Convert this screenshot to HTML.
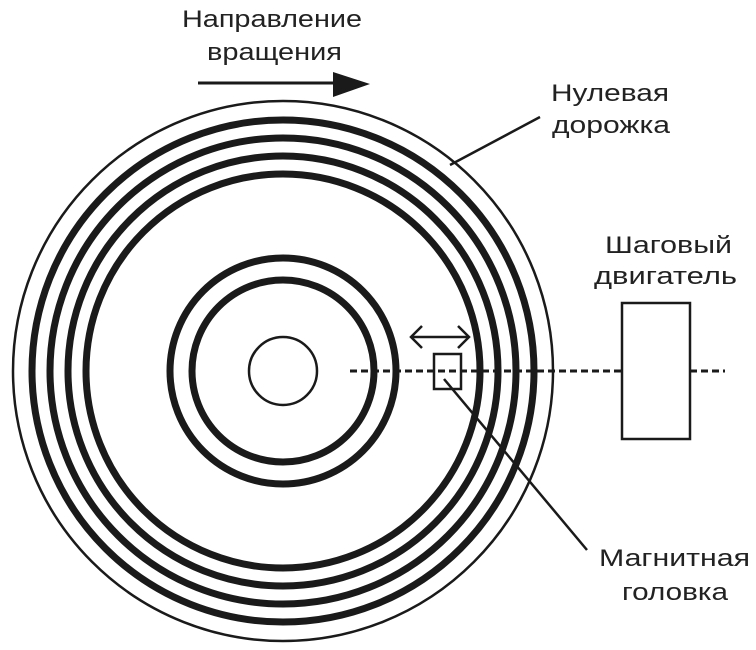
<!DOCTYPE html>
<html><head><meta charset="utf-8"><style>html,body{margin:0;padding:0;background:#fff}svg{display:block}</style></head>
<body>
<svg width="756" height="650" viewBox="0 0 756 650" xmlns="http://www.w3.org/2000/svg" font-family="'Liberation Sans', sans-serif" font-size="24" fill="#222">
<g fill="none" stroke="#1a1a1a">
<circle cx="283" cy="371" r="270" stroke-width="2.5"/>
<circle cx="283" cy="371" r="251" stroke-width="7"/>
<circle cx="283" cy="371" r="233" stroke-width="7"/>
<circle cx="283" cy="371" r="215" stroke-width="7"/>
<circle cx="283" cy="371" r="197" stroke-width="7"/>
<circle cx="283" cy="371" r="113" stroke-width="7"/>
<circle cx="283" cy="371" r="91" stroke-width="7"/>
<circle cx="283" cy="371" r="34" stroke-width="2.5"/>
<line x1="350" y1="371" x2="622" y2="371" stroke-width="3" stroke-dasharray="7,4"/>
<line x1="690" y1="371" x2="725" y2="371" stroke-width="3" stroke-dasharray="7,4"/>
<rect x="622" y="303" width="68" height="136" stroke-width="2.5" fill="#fff"/>
<rect x="434" y="354" width="27" height="35" stroke-width="2.5"/>
<line x1="444" y1="379" x2="587" y2="550" stroke-width="2.5"/>
<line x1="450" y1="165" x2="540" y2="117" stroke-width="2.5"/>
<line x1="412" y1="337" x2="468" y2="337" stroke-width="2.5"/>
<polyline points="422,326 411,337 422,348" stroke-width="2.5"/>
<polyline points="458,326 469,337 458,348" stroke-width="2.5"/>
<line x1="198" y1="83" x2="335" y2="83" stroke-width="3"/>
</g>
<polygon points="333,72 370,84 333,97" fill="#1a1a1a"/>
<text x="182" y="27" textLength="180" lengthAdjust="spacingAndGlyphs">Направление</text>
<text x="207" y="60" textLength="135" lengthAdjust="spacingAndGlyphs">вращения</text>
<text x="551" y="101" textLength="118" lengthAdjust="spacingAndGlyphs">Нулевая</text>
<text x="552" y="133" textLength="118" lengthAdjust="spacingAndGlyphs">дорожка</text>
<text x="605" y="253" textLength="127" lengthAdjust="spacingAndGlyphs">Шаговый</text>
<text x="594" y="284" textLength="143" lengthAdjust="spacingAndGlyphs">двигатель</text>
<text x="599" y="566" textLength="151" lengthAdjust="spacingAndGlyphs">Магнитная</text>
<text x="622" y="600" textLength="106" lengthAdjust="spacingAndGlyphs">головка</text>
</svg>
</body></html>
